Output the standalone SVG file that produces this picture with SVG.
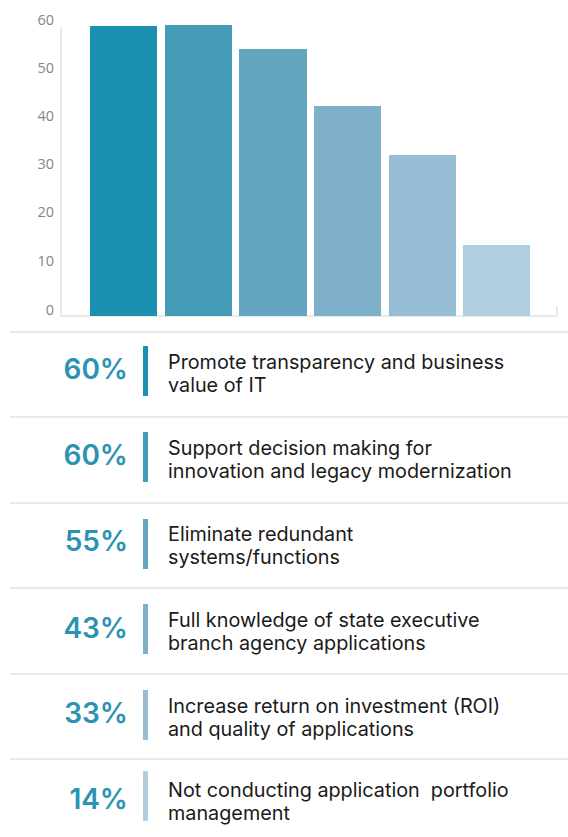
<svg xmlns="http://www.w3.org/2000/svg" width="568" height="837" viewBox="0 0 568 837">
<style>
.tick{font-family:"Open Sans","Liberation Sans",sans-serif;font-size:14.5px;fill:#858585;text-anchor:end}
.pct{font-family:"Inter","Liberation Sans",sans-serif;font-size:28px;font-weight:600;fill:#2a93b3;text-anchor:end}
.lbl{font-family:"Inter","Liberation Sans",sans-serif;font-size:19.8px;fill:#1a1a1a;white-space:pre}
.sep{stroke:#ebdfd3;stroke-width:1.5}
.axis{stroke:#e2e2e2;stroke-width:1.5;fill:none}
</style>
<rect width="568" height="837" fill="#ffffff"/>
<g id="axis">
<path class="axis" d="M61,27 V316 H557 V306"/>
<text class="tick" x="54" y="25">60</text>
<text class="tick" x="54" y="73">50</text>
<text class="tick" x="54" y="121">40</text>
<text class="tick" x="54" y="169">30</text>
<text class="tick" x="54" y="217">20</text>
<text class="tick" x="54" y="266">10</text>
<text class="tick" x="54" y="315">0</text>
</g>
<g id="bars">
<rect x="90" y="26" width="67" height="290" fill="#1b90b1"/>
<rect x="165" y="25" width="67" height="291" fill="#449bb8"/>
<rect x="239" y="49" width="68" height="267" fill="#64a6c0"/>
<rect x="314" y="106" width="67" height="210" fill="#7fb0ca"/>
<rect x="389" y="155" width="67" height="161" fill="#96bdd3"/>
<rect x="463" y="245" width="67" height="71" fill="#b1cde0"/>
</g>
<g id="separators">
<line class="sep" x1="10" y1="332" x2="568" y2="332"/>
<line class="sep" x1="10" y1="417" x2="568" y2="417"/>
<line class="sep" x1="10" y1="503" x2="568" y2="503"/>
<line class="sep" x1="10" y1="588" x2="568" y2="588"/>
<line class="sep" x1="10" y1="674" x2="568" y2="674"/>
<line class="sep" x1="10" y1="759" x2="568" y2="759"/>
</g>
<g id="row1">
<text class="pct" x="128" y="379">60%</text>
<rect x="143" y="346" width="5" height="50" fill="#1b90b1"/>
<text class="lbl" x="168" y="369">Promote transparency and business</text>
<text class="lbl" x="168" y="392">value of IT</text>
</g>
<g id="row2">
<text class="pct" x="128" y="465">60%</text>
<rect x="143" y="432" width="5" height="50" fill="#449bb8"/>
<text class="lbl" x="168" y="455">Support decision making for</text>
<text class="lbl" x="168" y="478">innovation and legacy modernization</text>
</g>
<g id="row3">
<text class="pct" x="128" y="551">55%</text>
<rect x="143" y="519" width="5" height="50" fill="#64a6c0"/>
<text class="lbl" x="168" y="541">Eliminate redundant</text>
<text class="lbl" x="168" y="564">systems/functions</text>
</g>
<g id="row4">
<text class="pct" x="128" y="638">43%</text>
<rect x="143" y="604" width="5" height="50" fill="#7fb0ca"/>
<text class="lbl" x="168" y="627">Full knowledge of state executive</text>
<text class="lbl" x="168" y="650">branch agency applications</text>
</g>
<g id="row5">
<text class="pct" x="128" y="723">33%</text>
<rect x="143" y="690" width="5" height="50" fill="#96bdd3"/>
<text class="lbl" x="168" y="713">Increase return on investment (ROI)</text>
<text class="lbl" x="168" y="736">and quality of applications</text>
</g>
<g id="row6">
<text class="pct" x="128" y="809">14%</text>
<rect x="143" y="771" width="5" height="50" fill="#b1cde0"/>
<text class="lbl" x="168" y="797">Not conducting application  portfolio</text>
<text class="lbl" x="168" y="820">management</text>
</g>
</svg>
